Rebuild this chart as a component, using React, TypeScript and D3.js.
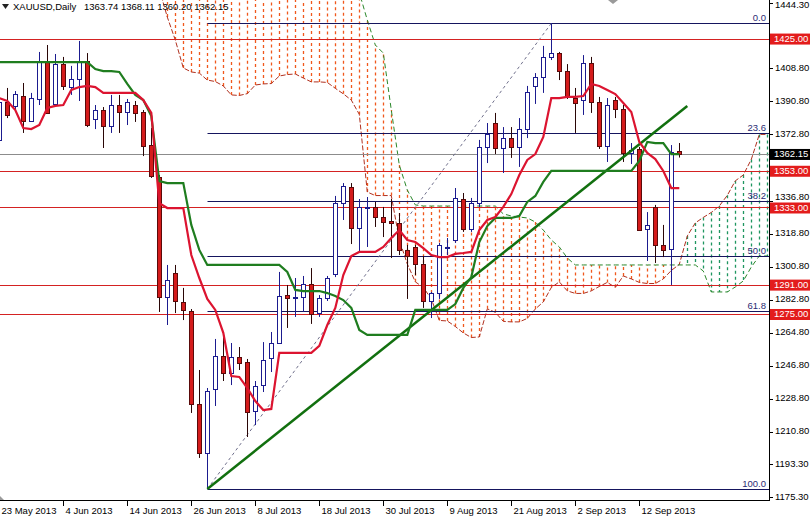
import React, { useEffect, useRef } from 'react'
import * as d3 from 'd3'

// time axis labels, one every 8 bars
const dateLabels = ['23 May 2013', '4 Jun 2013', '14 Jun 2013', '26 Jun 2013', '8 Jul 2013', '18 Jul 2013', '30 Jul 2013', '9 Aug 2013', '21 Aug 2013', '2 Sep 2013', '12 Sep 2013']
const dateBars = [0, 8, 16, 24, 32, 40, 48, 56, 64, 72, 80]

// daily candles, 23 May .. 19 Sep 2013
const opens = [1369.8, 1390.4, 1388.3, 1393.7, 1380.1, 1392.1, 1412.2, 1389.4, 1411.1, 1398.6, 1402.9, 1412.8, 1381.2, 1386.1, 1377.4, 1388.8, 1385.0, 1388.8, 1385.0, 1367.0, 1349.6, 1284.3, 1297.3, 1281.5, 1276.6, 1226.0, 1199.3, 1234.2, 1252.1, 1242.9, 1251.6, 1248.9, 1222.2, 1236.3, 1251.0, 1259.2, 1285.3, 1283.7, 1284.3, 1291.3, 1275.5, 1283.7, 1296.8, 1335.4, 1344.2, 1321.8, 1332.7, 1333.3, 1327.8, 1325.6, 1324.6, 1309.9, 1311.5, 1302.2, 1282.1, 1286.4, 1310.9, 1315.3, 1337.6, 1321.3, 1335.4, 1365.9, 1379.0, 1365.4, 1370.8, 1365.9, 1375.7, 1399.2, 1404.1, 1415.0, 1417.1, 1407.3, 1392.6, 1391.5, 1411.7, 1390.5, 1366.5, 1391.5, 1386.6, 1362.7, 1364.9, 1321.3, 1333.3, 1312.6, 1310.4, 1363.74]
const highs = [1394.3, 1398.1, 1396.4, 1400.8, 1395.4, 1417.7, 1421.5, 1416.6, 1415.0, 1410.1, 1423.7, 1417.1, 1388.8, 1387.7, 1394.3, 1394.3, 1392.1, 1391.0, 1386.1, 1376.3, 1350.7, 1301.7, 1301.7, 1289.2, 1277.7, 1244.5, 1234.7, 1261.4, 1262.5, 1259.2, 1257.0, 1250.5, 1238.5, 1259.7, 1265.2, 1297.9, 1290.8, 1294.6, 1295.7, 1300.0, 1285.3, 1295.7, 1339.3, 1346.3, 1346.3, 1337.6, 1338.7, 1336.0, 1333.3, 1337.6, 1330.0, 1312.6, 1312.6, 1306.6, 1287.0, 1313.7, 1316.4, 1343.6, 1340.9, 1338.2, 1369.8, 1379.0, 1384.5, 1376.8, 1376.8, 1381.7, 1399.2, 1406.2, 1421.0, 1433.3, 1417.7, 1411.1, 1398.1, 1416.0, 1415.0, 1393.2, 1392.6, 1393.2, 1388.8, 1368.1, 1366.0, 1330.5, 1334.4, 1323.5, 1367.0, 1368.11]
const lows = [1368.7, 1381.7, 1386.1, 1373.6, 1379.6, 1388.8, 1384.0, 1388.8, 1397.0, 1394.3, 1391.0, 1376.8, 1375.7, 1365.4, 1373.6, 1373.6, 1377.9, 1379.6, 1361.0, 1349.1, 1276.1, 1269.0, 1275.5, 1271.7, 1221.1, 1196.6, 1179.7, 1224.9, 1238.5, 1236.3, 1244.5, 1208.0, 1214.5, 1232.5, 1243.4, 1258.7, 1267.4, 1273.4, 1276.1, 1269.6, 1273.4, 1282.1, 1295.1, 1326.2, 1313.1, 1308.8, 1311.5, 1322.4, 1316.9, 1305.5, 1307.1, 1283.2, 1296.2, 1278.3, 1272.8, 1283.2, 1307.1, 1313.7, 1319.7, 1319.7, 1333.3, 1357.2, 1362.1, 1351.8, 1360.0, 1355.1, 1370.8, 1389.4, 1395.4, 1413.3, 1402.4, 1392.1, 1373.6, 1383.4, 1384.5, 1364.9, 1357.8, 1381.7, 1357.8, 1356.7, 1320.2, 1303.9, 1302.8, 1306.0, 1290.8, 1360.20]
const closes = [1390.4, 1383.4, 1394.8, 1380.1, 1392.6, 1412.2, 1384.5, 1411.1, 1399.2, 1402.9, 1412.8, 1377.9, 1386.1, 1377.4, 1388.8, 1385.0, 1390.5, 1384.5, 1366.5, 1350.2, 1284.3, 1293.5, 1282.1, 1277.2, 1226.0, 1199.3, 1233.1, 1252.1, 1242.9, 1251.6, 1248.3, 1221.6, 1235.8, 1250.0, 1259.2, 1284.8, 1283.7, 1284.3, 1291.3, 1275.0, 1283.7, 1294.6, 1335.4, 1344.7, 1321.8, 1333.3, 1333.3, 1327.8, 1325.1, 1324.6, 1309.9, 1306.6, 1302.2, 1282.1, 1286.4, 1312.6, 1311.5, 1338.2, 1321.3, 1335.4, 1365.9, 1373.0, 1365.4, 1370.8, 1365.9, 1375.7, 1395.9, 1404.1, 1415.0, 1417.1, 1407.3, 1393.2, 1389.9, 1411.7, 1390.5, 1366.5, 1388.8, 1386.6, 1362.7, 1364.3, 1320.7, 1323.5, 1312.6, 1309.9, 1363.2, 1362.15]

// ichimoku lines
const tenkan = [1392.6, 1391.0, 1386.1, 1376.3, 1375.7, 1377.9, 1387.2, 1388.3, 1388.8, 1397.0, 1398.6, 1399.2, 1398.6, 1395.4, 1395.4, 1395.4, 1395.4, 1395.4, 1391.5, 1384.5, 1335.4, 1332.7, 1332.7, 1332.7, 1307.1, 1294.6, 1283.2, 1277.2, 1264.7, 1241.2, 1240.7, 1234.7, 1227.6, 1222.7, 1223.3, 1253.8, 1253.8, 1253.8, 1253.8, 1253.8, 1257.6, 1269.0, 1278.3, 1296.2, 1306.6, 1308.8, 1308.8, 1308.8, 1311.5, 1316.4, 1320.7, 1315.3, 1314.2, 1310.9, 1307.1, 1306.0, 1306.0, 1307.7, 1308.2, 1308.8, 1320.7, 1326.2, 1327.8, 1333.3, 1340.3, 1350.7, 1358.9, 1362.1, 1371.4, 1392.6, 1392.6, 1393.2, 1393.2, 1393.7, 1400.3, 1399.2, 1397.0, 1394.8, 1389.9, 1385.0, 1368.7, 1362.7, 1359.4, 1352.9, 1343.6, 1343.6]
const kijun = [1412.2, 1412.2, 1412.2, 1412.2, 1412.2, 1412.2, 1412.2, 1412.2, 1412.2, 1412.2, 1412.2, 1412.2, 1408.4, 1407.3, 1407.3, 1406.8, 1400.3, 1394.3, 1391.5, 1382.8, 1347.4, 1346.3, 1346.3, 1346.3, 1323.5, 1309.9, 1301.7, 1301.7, 1301.7, 1301.7, 1301.7, 1301.7, 1301.7, 1301.7, 1301.7, 1301.7, 1297.9, 1288.1, 1287.5, 1287.5, 1287.5, 1286.4, 1284.8, 1282.6, 1278.3, 1266.3, 1263.6, 1263.6, 1263.6, 1263.6, 1263.6, 1263.6, 1277.2, 1277.2, 1277.2, 1277.2, 1277.2, 1280.4, 1289.2, 1295.1, 1314.2, 1322.9, 1327.3, 1327.3, 1327.3, 1328.4, 1336.0, 1339.3, 1346.9, 1352.9, 1352.9, 1352.9, 1352.9, 1352.9, 1352.9, 1352.9, 1352.9, 1352.9, 1352.9, 1352.9, 1358.3, 1368.7, 1368.1, 1368.1, 1362.1, 1362.1]

// senkou spans (cloud), first value sits on bar 20; B runs off the top early on
const spanStart = 20
const spanA = [1452, 1436.7, 1424.2, 1409.0, 1406.8, 1406.2, 1402.4, 1401.6, 1399.2, 1394.3, 1394.0, 1395.0, 1399.7, 1400.3, 1400.5, 1404.6, 1405.4, 1405.7, 1403.5, 1401.4, 1401.4, 1401.1, 1397.9, 1394.9, 1391.5, 1383.7, 1341.4, 1339.5, 1339.5, 1339.5, 1315.3, 1302.3, 1292.5, 1289.5, 1283.2, 1271.5, 1271.2, 1268.2, 1264.7, 1262.2, 1262.5, 1277.8, 1275.9, 1271.0, 1270.7, 1270.7, 1272.6, 1277.7, 1281.6, 1289.4, 1292.5, 1287.6, 1286.2, 1286.2, 1287.6, 1290.0, 1292.2, 1289.5, 1295.7, 1294.1, 1292.2, 1291.6, 1291.6, 1294.1, 1298.7, 1302.0, 1317.5, 1324.6, 1327.6, 1330.3, 1333.8, 1339.6, 1347.5, 1350.7, 1359.2, 1372.8, 1372.8]
const spanB = [1462, 1462, 1462, 1462, 1462, 1462, 1462, 1462, 1462, 1462, 1462, 1462, 1462, 1462, 1462, 1462, 1462, 1462, 1462, 1462, 1462, 1462, 1462, 1462, 1458, 1450, 1435.1, 1421.5, 1417.1, 1386.1, 1356.1, 1342.5, 1334.4, 1333.8, 1333.8, 1333.8, 1333.8, 1333.8, 1333.8, 1333.8, 1333.8, 1333.8, 1333.8, 1329.5, 1328.4, 1327.8, 1327.3, 1325.1, 1320.7, 1315.3, 1311.5, 1305.5, 1301.7, 1301.7, 1301.7, 1301.7, 1301.7, 1301.7, 1301.7, 1301.7, 1301.7, 1301.7, 1301.7, 1301.7, 1301.7, 1301.7, 1301.7, 1301.7, 1298.4, 1287.0, 1287.0, 1287.0, 1289.7, 1293.0, 1300.6, 1306.6, 1306.6]

const levels = [1425.0, 1353.0, 1333.0, 1291.0, 1275.0]
const lastPrice = 1362.15
const priceTicks = [1444.3, 1408.8, 1390.8, 1372.8, 1336.8, 1318.8, 1300.8, 1282.8, 1264.8, 1246.8, 1228.8, 1210.8, 1193.3, 1175.3]

// fibonacci from the 28 Jun low to the 28 Aug high
const fibLowBar = 26
const fibLow = 1179.7
const fibHighBar = 69
const fibHigh = 1433.3
const fibLevels = [0, 23.6, 38.2, 50, 61.8, 100]

const trendBars = [26, 86]
const trendPrices = [1179.7, 1388.3]

const W = 810
const H = 517
const plotW = 769
const plotH = 500
const font = '"Liberation Sans", Arial, sans-serif'

export default function App() {
  const ref = useRef<SVGSVGElement>(null)

  useEffect(() => {
    const svg = d3.select(ref.current)
    svg.selectAll('*').remove()

    const x = d3.scaleLinear().domain([0, 85]).range([-0.7, 679.3])
    const y = d3.scaleLinear().domain([1173.7, 1446.0]).range([plotH, 0])
    const px = (i: number) => Math.round(x(i)) + 0.5
    const py = (p: number) => Math.round(y(p)) + 0.5

    svg.append('rect').attr('width', W).attr('height', H).attr('fill', '#fff')
    svg.append('defs').append('clipPath').attr('id', 'plot')
      .append('rect').attr('width', plotW).attr('height', plotH)

    const g = svg.append('g').attr('clip-path', 'url(#plot)')

    // cloud hatching, one dotted stroke per bar
    const cloud = spanA.map((a, k) => ({ bar: spanStart + k, a, b: spanB[k] }))
    g.append('g').selectAll('line').data(cloud).enter().append('line')
      .attr('x1', d => px(d.bar)).attr('x2', d => px(d.bar))
      .attr('y1', d => y(d.a)).attr('y2', d => y(d.b))
      .attr('stroke', d => (d.a >= d.b ? '#1f9660' : '#f0581c'))
      .attr('stroke-width', 1.3)
      .attr('stroke-dasharray', '3,3')

    const spanLine = d3.line<number>().x((_, k) => x(spanStart + k)).y(d => y(d))
    g.append('path').attr('d', spanLine(spanA)).attr('fill', 'none')
      .attr('stroke', '#b0301f').attr('stroke-width', 1).attr('stroke-dasharray', '5,2')
    g.append('path').attr('d', spanLine(spanB)).attr('fill', 'none')
      .attr('stroke', '#2a872a').attr('stroke-width', 1).attr('stroke-dasharray', '5,3')

    // support / resistance
    g.selectAll('.lvl').data(levels).enter().append('line')
      .attr('x1', 0).attr('x2', plotW).attr('y1', d => py(d)).attr('y2', d => py(d))
      .attr('stroke', '#d42222').attr('stroke-width', 1)
    g.append('line').attr('x1', 0).attr('x2', plotW)
      .attr('y1', py(lastPrice)).attr('y2', py(lastPrice))
      .attr('stroke', '#8c8c8c').attr('stroke-width', 1)

    // fibonacci
    const fibPrice = (l: number) => fibHigh - ((fibHigh - fibLow) * l) / 100
    g.selectAll('.fib').data(fibLevels).enter().append('line')
      .attr('x1', px(fibLowBar)).attr('x2', plotW)
      .attr('y1', d => py(fibPrice(d))).attr('y2', d => py(fibPrice(d)))
      .attr('stroke', '#15155e').attr('stroke-width', 1)
    g.append('line')
      .attr('x1', x(fibLowBar)).attr('y1', y(fibLow))
      .attr('x2', x(fibHighBar)).attr('y2', y(fibHigh))
      .attr('stroke', '#70708c').attr('stroke-width', 1).attr('stroke-dasharray', '3,3')
    svg.selectAll('.fibl').data(fibLevels).enter().append('text')
      .attr('x', 766).attr('y', d => y(fibPrice(d)) - 2)
      .attr('text-anchor', 'end').attr('font-family', font).attr('font-size', 9.5)
      .attr('fill', '#2b2b73').text(d => d.toFixed(1))

    // candles
    const bars = d3.range(opens.length)
    const cg = g.append('g')
    bars.forEach(i => {
      const up = closes[i] >= opens[i]
      const cx = px(i)
      cg.append('line').attr('x1', cx).attr('x2', cx)
        .attr('y1', y(highs[i])).attr('y2', y(lows[i]))
        .attr('stroke', up ? '#1b1b8f' : '#2a0606').attr('stroke-width', 1)
      const top = Math.round(y(Math.max(opens[i], closes[i])))
      const bot = Math.round(y(Math.min(opens[i], closes[i])))
      cg.append('rect')
        .attr('x', cx - 2).attr('y', top + 0.5)
        .attr('width', 4).attr('height', Math.max(1, bot - top))
        .attr('fill', up ? '#ffffff' : '#d41b1b')
        .attr('stroke', up ? '#1b1b8f' : '#5a0a0a').attr('stroke-width', 1)
    })

    // trend line
    g.append('line')
      .attr('x1', x(trendBars[0])).attr('y1', y(trendPrices[0]))
      .attr('x2', x(trendBars[1])).attr('y2', y(trendPrices[1]))
      .attr('stroke', '#12700f').attr('stroke-width', 2.5)

    // tenkan / kijun
    const line = d3.line<number>().x((_, i) => x(i)).y(d => y(d))
    g.append('path').attr('d', line(kijun)).attr('fill', 'none')
      .attr('stroke', '#1f7d1f').attr('stroke-width', 2.2)
    g.append('path').attr('d', line(tenkan)).attr('fill', 'none')
      .attr('stroke', '#dc1430').attr('stroke-width', 2.2)

    // axes frame
    svg.append('line').attr('x1', plotW + 0.5).attr('x2', plotW + 0.5).attr('y1', 0).attr('y2', plotH + 1)
      .attr('stroke', '#000')
    svg.append('line').attr('x1', 0).attr('x2', plotW + 1).attr('y1', plotH + 0.5).attr('y2', plotH + 0.5)
      .attr('stroke', '#000')

    // price axis
    const boxes = [...levels.map(p => ({ p, c: '#e31c1c' })), { p: lastPrice, c: '#000' }]
    priceTicks.forEach(p => {
      svg.append('line').attr('x1', plotW).attr('x2', plotW + 4)
        .attr('y1', py(p)).attr('y2', py(p)).attr('stroke', '#000')
      // nudge a tick label up when a price box sits just under it
      const near = boxes.some(b => y(b.p) - y(p) > 0 && y(b.p) - y(p) < 10)
      svg.append('text').attr('x', plotW + 6).attr('y', Math.max(8, y(p) + (near ? -0.5 : 2.5)))
        .attr('font-family', font).attr('font-size', 9.5).attr('fill', '#000')
        .text(p.toFixed(2))
    })
    boxes.forEach(({ p, c }) => {
      svg.append('rect').attr('x', plotW + 1).attr('y', y(p) - 5)
        .attr('width', W - plotW - 1).attr('height', 11).attr('fill', c)
      svg.append('text').attr('x', plotW + 5).attr('y', y(p) + 3.5)
        .attr('font-family', font).attr('font-size', 9.5).attr('fill', '#fff')
        .text(p.toFixed(2))
    })

    // time axis
    dateBars.forEach((b, k) => {
      const tx = px(b)
      svg.append('line').attr('x1', tx).attr('x2', tx).attr('y1', plotH).attr('y2', plotH + 6)
        .attr('stroke', '#000')
      svg.append('text').attr('x', tx + 2).attr('y', 514)
        .attr('font-family', font).attr('font-size', 9.5).attr('fill', '#000')
        .text(dateLabels[k])
    })

    // header
    svg.append('polygon').attr('points', '2,4 9,4 5.5,9').attr('fill', '#222')
    svg.append('text').attr('x', 13).attr('y', 10)
      .attr('font-family', font).attr('font-size', 9.5).attr('fill', '#000')
      .text('XAUUSD,Daily')
    svg.append('text').attr('x', 84).attr('y', 10)
      .attr('font-family', font).attr('font-size', 9.5).attr('fill', '#000')
      .text('1363.74 1368.11 1360.20 1362.15')
    svg.append('polygon').attr('points', '608,0 618,0 613,4').attr('fill', '#9a9a9a')
    svg.append('polygon').attr('points', '0,496 4,500 0,500').attr('fill', '#9a9a9a')
  }, [])

  return (
    <svg ref={ref} width={W} height={H}
      style={{ position: 'absolute', left: 0, top: 0, display: 'block' }} />
  )
}
